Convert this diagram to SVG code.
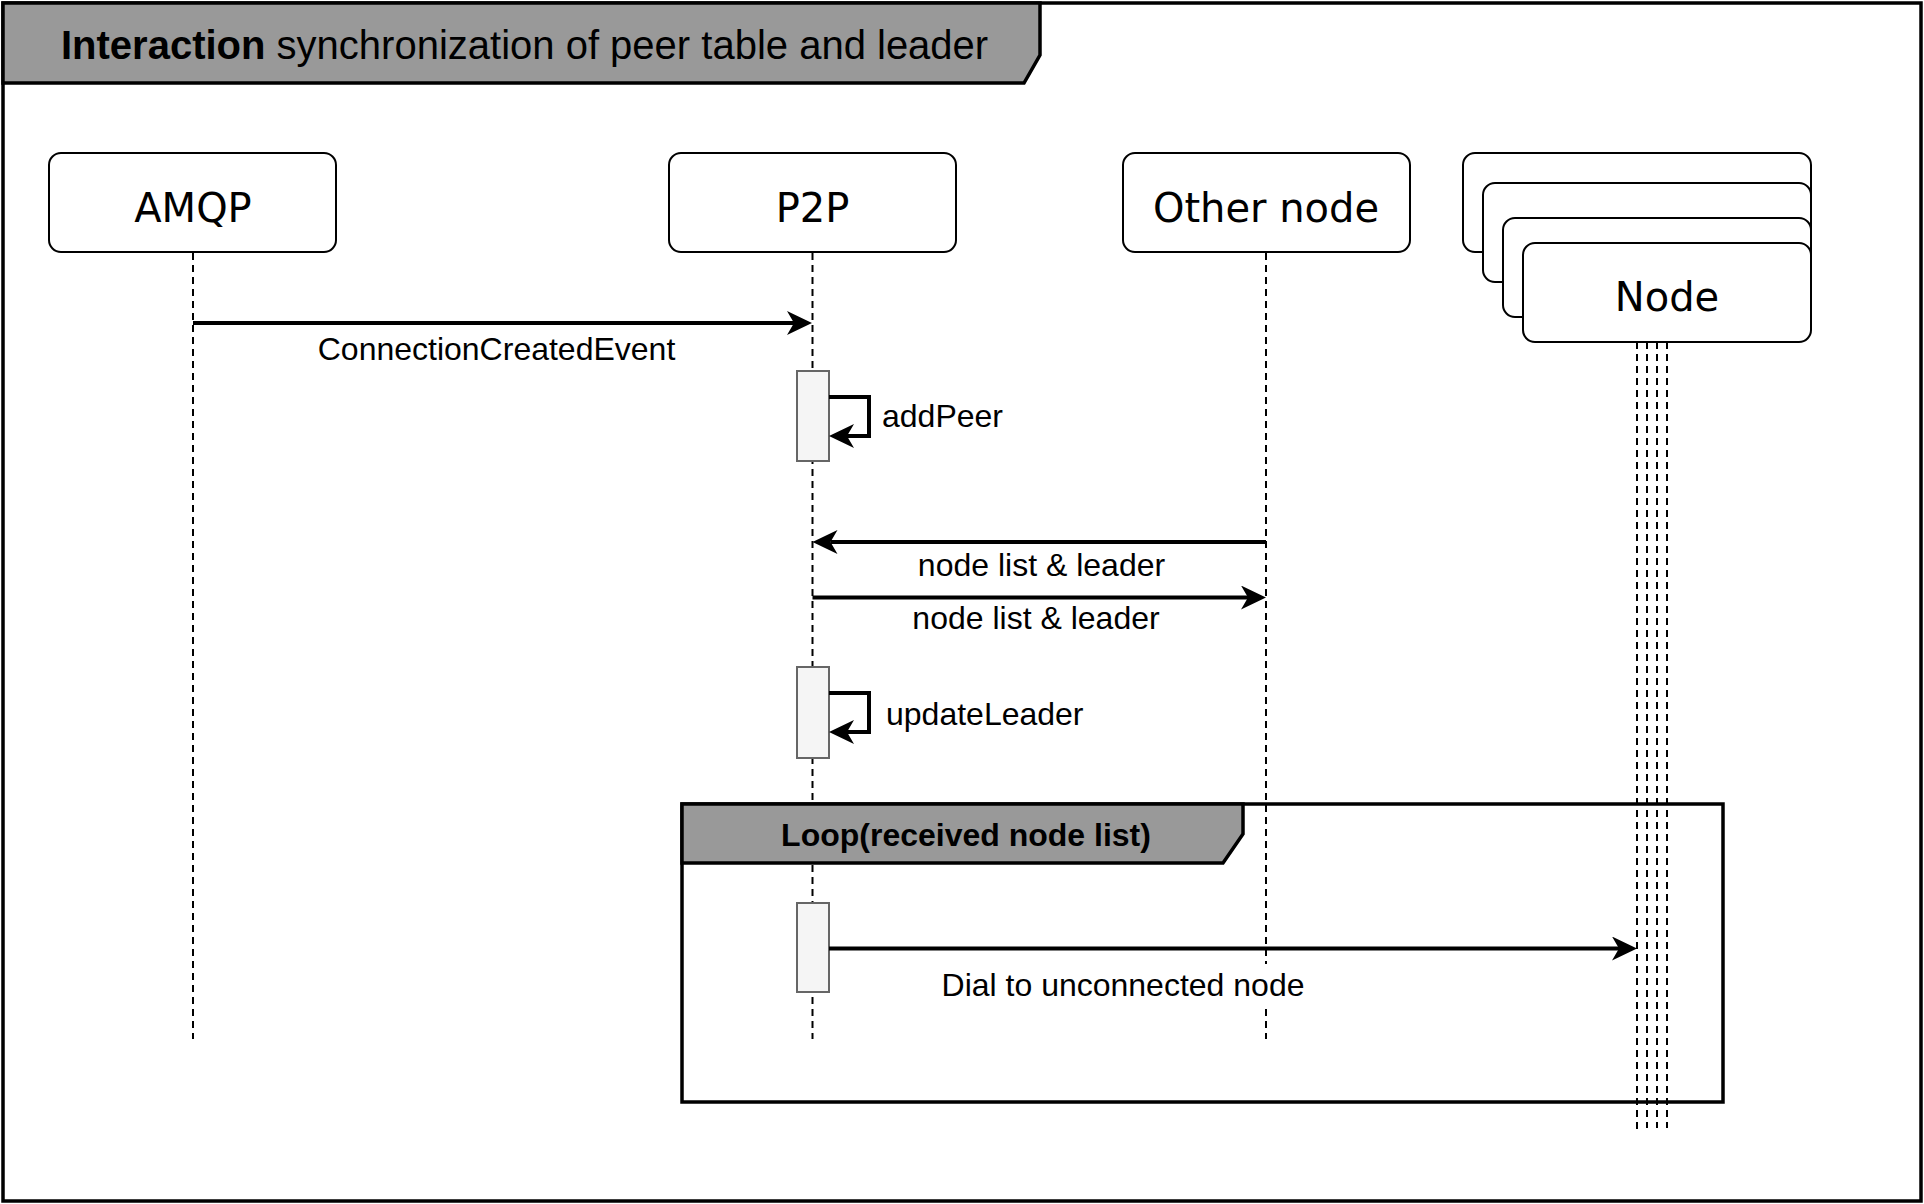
<svg xmlns="http://www.w3.org/2000/svg" width="1924" height="1204" viewBox="0 0 1924 1204">
<style>
.frame{fill:none;stroke:#000;stroke-width:3.5}
.hdr{fill:#999999;stroke:#000;stroke-width:3.5}
.box{fill:#fff;stroke:#000;stroke-width:2}
.life{fill:none;stroke:#000;stroke-width:2;stroke-dasharray:7 5}
.act{fill:#f5f5f5;stroke:#666666;stroke-width:2}
.msg{fill:none;stroke:#000;stroke-width:4;marker-end:url(#arr)}
.lbl{font-family:"Liberation Sans",Arial,sans-serif;font-size:32px;fill:#000}
.lblbg{fill:#fff;stroke:none}
.name{font-family:"DejaVu Sans",Verdana,sans-serif;font-size:40px;fill:#000;text-anchor:middle}
</style>
<defs>
<marker id="arr" viewBox="0 0 25 24" refX="7" refY="12" markerWidth="25" markerHeight="24" markerUnits="userSpaceOnUse" orient="auto">
<path d="M0,0 L25,12 L0,24 L7,12 Z" fill="#000"/>
</marker>
</defs>
<rect width="1924" height="1204" fill="#fff"/>
<g id="frame">
<rect class="frame" x="3" y="3" width="1918" height="1198"/>
<polygon class="hdr" points="3,3 1040,3 1040,55 1024,83 3,83"/>
<text class="lbl" x="61" y="59" style="font-size:40px"><tspan font-weight="bold">Interaction</tspan> synchronization of peer table and leader</text>
</g>
<g id="lifelines">
<line class="life" x1="193" y1="253" x2="193" y2="1039"/>
<line class="life" x1="812.5" y1="253" x2="812.5" y2="1039"/>
<line class="life" x1="1266" y1="253" x2="1266" y2="1039"/>
<line class="life" x1="1637" y1="342" x2="1637" y2="1132"/>
<line class="life" x1="1647" y1="342" x2="1647" y2="1128"/>
<line class="life" x1="1657" y1="342" x2="1657" y2="1128"/>
<line class="life" x1="1667" y1="342" x2="1667" y2="1128"/>
</g>
<g id="amqp">
<rect class="box" x="49" y="153" width="287" height="99" rx="12"/>
<text class="name" x="193" y="222">AMQP</text>
</g>
<g id="p2p">
<rect class="box" x="669" y="153" width="287" height="99" rx="12"/>
<text class="name" x="812.5" y="222">P2P</text>
</g>
<g id="other-node">
<rect class="box" x="1123" y="153" width="287" height="99" rx="12"/>
<text class="name" x="1266" y="222">Other node</text>
</g>
<g id="node">
<rect class="box" x="1463" y="153" width="348" height="99" rx="12"/>
<rect class="box" x="1483" y="183" width="328" height="99" rx="12"/>
<rect class="box" x="1503" y="218" width="308" height="99" rx="12"/>
<rect class="box" x="1523" y="243" width="288" height="99" rx="12"/>
<text class="name" x="1667" y="311">Node</text>
</g>
<g id="loop">
<rect class="frame" x="682" y="804" width="1041" height="298"/>
<polygon class="hdr" points="682,804 1243,804 1243,834 1223,863 682,863"/>
<text class="lbl" x="966" y="846" text-anchor="middle" font-weight="bold">Loop(received node list)</text>
</g>
<g id="activations">
<rect class="act" x="797" y="371" width="32" height="90"/>
<rect class="act" x="797" y="667" width="32" height="91"/>
<rect class="act" x="797" y="903" width="32" height="89"/>
</g>
<g id="connectors">
<path class="msg" d="M193,323 H794"/>
<path class="msg" d="M829,397 H869 V436 H847"/>
<path class="msg" d="M1266,542 H830.5"/>
<path class="msg" d="M812.5,597.5 H1248"/>
<path class="msg" d="M829,693 H869 V732 H847"/>
<path class="msg" d="M829,948.5 H1619"/>
</g>
<g id="labels">
<text class="lbl" x="496.5" y="360" text-anchor="middle">ConnectionCreatedEvent</text>
<text class="lbl" x="882" y="427">addPeer</text>
<text class="lbl" x="1041.5" y="576" text-anchor="middle">node list &amp; leader</text>
<text class="lbl" x="1036" y="629" text-anchor="middle">node list &amp; leader</text>
<text class="lbl" x="886" y="725">updateLeader</text>
<rect class="lblbg" x="939" y="964" width="368" height="44"/>
<text class="lbl" x="1123" y="996" text-anchor="middle">Dial to unconnected node</text>
</g>
</svg>
